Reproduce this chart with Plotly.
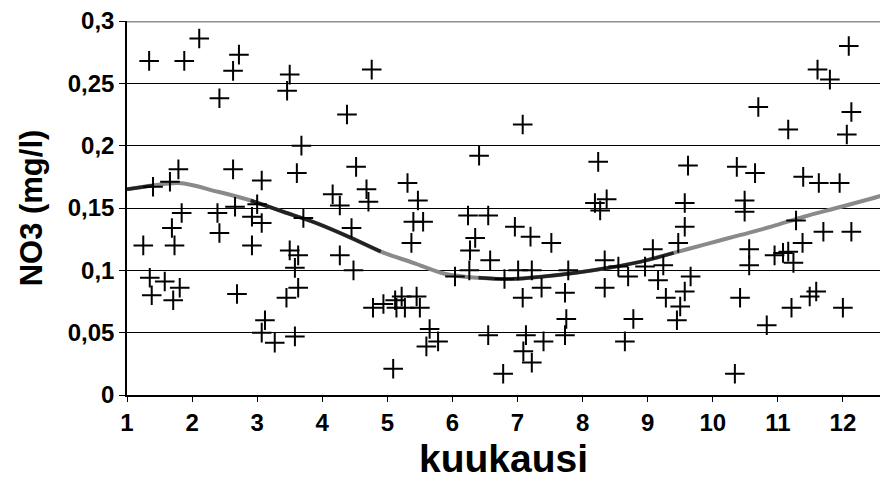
import plotly.graph_objects as go

# Measured NO3 observations (month as decimal, mg/l)
month = [1.34, 1.88, 2.11, 2.72, 2.63, 2.42, 1.79, 2.63, 1.40, 1.66, 2.66,
         1.84, 2.39, 1.69, 2.42, 1.25, 1.73, 1.35, 1.58, 1.81, 1.38, 1.71, 2.69, 2.92,
         3.50, 3.46, 4.76, 4.38, 3.68, 3.07, 3.61, 4.52, 4.16, 4.68, 4.71, 4.27,
         3.00, 3.07, 2.92, 3.71, 4.45, 3.50, 3.63, 3.58, 4.27, 4.48, 3.63, 3.45,
         3.12, 3.07, 3.27, 3.58, 4.78,
         5.31, 5.47, 6.41,
         5.40, 5.55, 5.37, 6.24, 6.55, 6.35, 6.27, 6.58, 6.04, 6.26, 6.80, 4.94,
         5.12, 5.22, 5.45, 5.27, 5.50, 5.14, 5.65, 5.78, 5.60, 6.55, 5.09, 6.78,
         7.08, 8.24, 8.37, 8.19,
         8.27, 6.96, 7.20, 7.52, 7.01, 7.22, 7.78, 8.34, 8.55, 8.70, 7.37, 7.08,
         7.73, 8.34, 7.75, 7.73, 7.13, 7.40, 7.09, 7.22, 8.65, 8.78,
         10.70, 9.62, 10.37, 10.65, 9.57, 10.49,
         10.49, 9.57, 9.47, 9.08, 10.56, 8.96, 9.24, 10.56, 9.66, 9.16, 9.57, 9.28,
         9.50, 9.45, 10.42, 10.83, 10.34,
         12.09, 11.61, 11.80, 12.13, 12.06, 11.16, 11.39, 11.63, 11.95,
         11.28, 11.70, 12.13, 11.38, 11.16, 10.95, 11.08, 11.24, 11.59, 11.49,
         11.21, 12.00]
no3 = [0.268, 0.268, 0.286, 0.273, 0.260, 0.238, 0.181, 0.181, 0.167, 0.171, 0.151,
       0.146, 0.146, 0.134, 0.130, 0.120, 0.120, 0.094, 0.091, 0.086, 0.080, 0.076, 0.081, 0.120,
       0.257, 0.244, 0.261, 0.225, 0.200, 0.172, 0.178, 0.183, 0.161, 0.165, 0.155, 0.152,
       0.153, 0.138, 0.143, 0.142, 0.134, 0.116, 0.112, 0.102, 0.112, 0.100, 0.086, 0.078,
       0.060, 0.050, 0.042, 0.047, 0.070,
       0.170, 0.156, 0.192,
       0.139, 0.139, 0.122, 0.144, 0.144, 0.126, 0.116, 0.108, 0.095, 0.100, 0.093, 0.073,
       0.076, 0.079, 0.079, 0.070, 0.070, 0.070, 0.053, 0.043, 0.039, 0.048, 0.021, 0.017,
       0.217, 0.187, 0.157, 0.154,
       0.148, 0.135, 0.127, 0.122, 0.100, 0.100, 0.100, 0.108, 0.103, 0.095, 0.086, 0.078,
       0.082, 0.086, 0.061, 0.048, 0.048, 0.043, 0.035, 0.026, 0.043, 0.061,
       0.231, 0.184, 0.183, 0.178, 0.154, 0.156,
       0.147, 0.135, 0.122, 0.117, 0.117, 0.103, 0.104, 0.104, 0.095, 0.092, 0.083, 0.078,
       0.071, 0.060, 0.078, 0.056, 0.017,
       0.280, 0.261, 0.253, 0.227, 0.209, 0.213, 0.175, 0.170, 0.170,
       0.140, 0.131, 0.131, 0.122, 0.115, 0.112, 0.114, 0.106, 0.083, 0.079,
       0.070, 0.070]

# Seasonal trend curve
trend_x = [1.0, 1.4, 1.8, 2.4, 2.9, 3.4, 3.9, 4.4, 4.9, 5.4, 5.9, 6.4, 6.9,
           7.4, 7.9, 8.4, 8.9, 9.4, 9.9, 10.4, 10.9, 11.4, 11.9, 12.4, 12.6]
trend_y = [0.165, 0.168, 0.170, 0.163, 0.156, 0.147, 0.138, 0.127, 0.115, 0.106,
           0.097, 0.094, 0.093, 0.095, 0.098, 0.102, 0.107, 0.114, 0.121, 0.128,
           0.135, 0.143, 0.150, 0.157, 0.160]

x_ticks = [1, 2, 3, 4, 5, 6, 7, 8, 9, 10, 11, 12]
y_ticks = [0, 0.05, 0.1, 0.15, 0.2, 0.25, 0.3]
y_labels = ["0", "0,05", "0,1", "0,15", "0,2", "0,25", "0,3"]

FONT = "Arial, Liberation Sans, sans-serif"

# darker stretches of the printed trend line (scan look)
dark_x = [x if (x <= 1.4 or 2.9 <= x <= 4.9 or 6.4 <= x <= 9.4) else None for x in trend_x]
dark_y = [y if x is not None else None for x, y in zip(dark_x, trend_y)]

fig = go.Figure()
fig.add_trace(go.Scatter(
    x=trend_x, y=trend_y, mode="lines", line_shape="spline",
    line=dict(color="#8a8a8a", width=4), showlegend=False, hoverinfo="skip"))
fig.add_trace(go.Scatter(
    x=dark_x, y=dark_y, mode="lines", line_shape="spline", connectgaps=False,
    line=dict(color="#222222", width=3.5), showlegend=False, hoverinfo="skip"))
fig.add_trace(go.Scatter(
    x=month, y=no3, mode="markers",
    marker=dict(symbol="cross-thin", size=14, color="black",
                line=dict(width=2, color="black")),
    showlegend=False, hoverinfo="x+y"))

fig.add_shape(type="line", xref="paper", yref="y", x0=0, x1=1, y0=0.3, y1=0.3,
              line=dict(color="#8f8f8f", width=3), layer="below")

fig.update_layout(
    width=883, height=496,
    margin=dict(l=127, r=3, t=21, b=101),
    paper_bgcolor="white", plot_bgcolor="white",
    font=dict(family=FONT, color="black", size=22),
)
fig.update_xaxes(
    range=[1, 12.57], tickvals=x_ticks,
    ticktext=["<b>%d</b>" % v for v in x_ticks],
    showgrid=False, zeroline=False, showline=True, linecolor="black",
    linewidth=1.5, ticks="outside", ticklen=5, tickcolor="black",
    tickfont=dict(size=24, family=FONT, color="black"),
    title=dict(text="<b>kuukausi</b>", font=dict(size=39, family=FONT, color="black"),
               standoff=10))
fig.update_yaxes(
    range=[0, 0.3], tickvals=y_ticks,
    ticktext=["<b>%s</b>" % s for s in y_labels],
    showgrid=True, gridcolor="black", gridwidth=1, zeroline=False,
    showline=True, linecolor="black", linewidth=1.5,
    ticks="outside", ticklen=6, tickcolor="black",
    tickfont=dict(size=24, family=FONT, color="black"),
    title=dict(text="<b>NO3 (mg/l)</b>", font=dict(size=31, family=FONT, color="black"),
               standoff=16))

fig.write_html("out.html")
